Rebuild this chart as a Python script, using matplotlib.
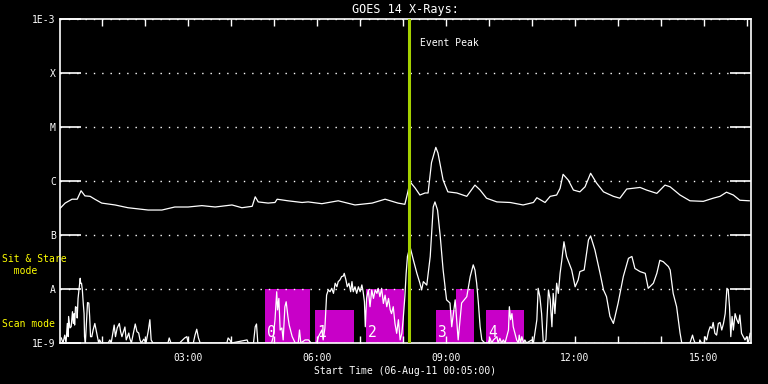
import matplotlib
matplotlib.use("Agg")
import matplotlib.pyplot as plt
import matplotlib.ticker as mticker

plt.rcParams["font.family"] = ["DejaVu Sans Mono", "DejaVu Sans"]

# ---------------- data (hours since 00:00 UT, flux in W/m^2) ----------------
long_hours = [0.03, 0.15, 0.31, 0.43, 0.52, 0.61, 0.73, 0.84, 1.00, 1.31, 1.61, 2.08, 2.40, 2.70,
              3.01, 3.33, 3.64, 4.03, 4.26, 4.50, 4.57, 4.64, 4.87, 5.03, 5.08, 5.33, 5.66, 5.80,
              6.12, 6.50, 6.89, 7.29, 7.59, 7.89, 8.05, 8.12, 8.17, 8.29, 8.40, 8.52, 8.59, 8.67,
              8.77, 8.82, 8.94, 9.05, 9.26, 9.49, 9.68, 9.80, 9.95, 10.19, 10.50, 10.80, 11.04,
              11.12, 11.31, 11.43, 11.58, 11.66, 11.73, 11.85, 11.97, 12.12, 12.24, 12.37, 12.51,
              12.67, 12.90, 13.05, 13.21, 13.52, 13.67, 13.91, 14.10, 14.22, 14.45, 14.68, 14.99,
              15.22, 15.38, 15.53, 15.69, 15.84, 16.06]
long_flux = [3.1e-7, 3.9e-7, 4.6e-7, 4.6e-7, 6.6e-7, 5.3e-7, 5.2e-7, 4.6e-7, 3.9e-7, 3.6e-7, 3.2e-7,
             2.9e-7, 2.9e-7, 3.3e-7, 3.3e-7, 3.5e-7, 3.3e-7, 3.6e-7, 3.2e-7, 3.4e-7, 5.1e-7, 4.1e-7,
             3.9e-7, 4.0e-7, 4.6e-7, 4.3e-7, 4.0e-7, 4.1e-7, 3.8e-7, 4.3e-7, 3.6e-7, 3.9e-7, 4.6e-7,
             3.9e-7, 3.7e-7, 6.3e-7, 9.7e-7, 7.4e-7, 5.5e-7, 6.0e-7, 6.0e-7, 2.2e-6, 4.2e-6, 3.3e-6,
             1.04e-6, 6.3e-7, 6.0e-7, 5.2e-7, 8.4e-7, 6.8e-7, 4.8e-7, 4.1e-7, 4.0e-7, 3.6e-7, 4.0e-7,
             4.9e-7, 4.0e-7, 5.2e-7, 5.5e-7, 7.3e-7, 1.33e-6, 1.04e-6, 6.8e-7, 6.3e-7, 7.8e-7,
             1.39e-6, 9.1e-7, 6.3e-7, 5.2e-7, 4.8e-7, 7.1e-7, 7.6e-7, 6.8e-7, 5.9e-7, 8.4e-7, 7.8e-7,
             5.5e-7, 4.3e-7, 4.2e-7, 4.8e-7, 5.2e-7, 6.2e-7, 5.5e-7, 4.4e-7, 4.3e-7]

short_hours = [0.06, 0.10, 0.14, 0.17, 0.20, 0.22, 0.23, 0.26, 0.29, 0.32, 0.34, 0.36, 0.37, 0.39,
               0.42, 0.43, 0.45, 0.47, 0.50, 0.51, 0.53, 0.55, 0.57, 0.59, 0.60, 0.62, 0.65, 0.67,
               0.70, 0.72, 0.74, 0.77, 0.80, 0.84, 0.86, 0.90, 0.93, 0.95, 0.99, 1.15, 1.19, 1.22,
               1.29, 1.32, 1.36, 1.41, 1.44, 1.47, 1.54, 1.57, 1.63, 1.65, 1.69, 1.78, 1.82, 1.86,
               1.89, 1.92, 1.98, 2.03, 2.08, 2.12, 2.15, 2.19, 2.54, 2.57, 2.61, 2.81, 2.93, 2.98,
               3.01, 3.13, 3.17, 3.21, 3.25, 3.29, 3.91, 3.94, 3.98, 4.02, 4.38, 4.41, 4.53, 4.57,
               4.60, 4.63, 4.95, 4.99, 5.03, 5.07, 5.09, 5.12, 5.15, 5.19, 5.22, 5.26, 5.29, 5.33,
               5.36, 5.40, 5.43, 5.50, 5.57, 5.60, 5.63, 5.73, 5.81, 5.87, 6.00, 6.04, 6.12, 6.15,
               6.19, 6.23, 6.27, 6.31, 6.35, 6.39, 6.43, 6.47, 6.50, 6.54, 6.58, 6.62, 6.64, 6.68,
               6.71, 6.75, 6.79, 6.82, 6.85, 6.89, 6.93, 6.97, 7.01, 7.05, 7.08, 7.11, 7.13, 7.16,
               7.20, 7.24, 7.28, 7.32, 7.36, 7.40, 7.43, 7.47, 7.51, 7.55, 7.59, 7.63, 7.67, 7.71,
               7.74, 7.78, 7.82, 7.86, 7.90, 7.94, 7.98, 8.01, 8.05, 8.08, 8.11, 8.17, 8.25, 8.33,
               8.40, 8.44, 8.48, 8.56, 8.64, 8.71, 8.75, 8.81, 8.87, 8.94, 9.02, 9.10, 9.14, 9.22,
               9.29, 9.37, 9.49, 9.57, 9.64, 9.68, 9.72, 9.76, 9.80, 9.84, 9.91, 9.99, 10.03, 10.07,
               10.11, 10.19, 10.22, 10.26, 10.30, 10.34, 10.38, 10.42, 10.46, 10.48, 10.51, 10.54,
               10.57, 10.61, 10.65, 10.69, 10.71, 10.74, 10.77, 10.81, 10.84, 10.88, 11.00, 11.04,
               11.12, 11.15, 11.19, 11.23, 11.27, 11.33, 11.39, 11.43, 11.47, 11.50, 11.54, 11.58,
               11.62, 11.66, 11.70, 11.75, 11.81, 11.93, 12.01, 12.08, 12.12, 12.22, 12.32, 12.37,
               12.47, 12.59, 12.67, 12.74, 12.82, 12.90, 13.01, 13.13, 13.25, 13.33, 13.40, 13.52,
               13.64, 13.71, 13.83, 13.91, 13.98, 14.06, 14.18, 14.22, 14.26, 14.29, 14.37, 14.41,
               14.45, 14.49, 14.68, 14.74, 14.77, 14.80, 14.90, 14.91, 14.95, 15.01, 15.03, 15.07,
               15.11, 15.15, 15.19, 15.22, 15.26, 15.30, 15.34, 15.38, 15.42, 15.46, 15.50, 15.54,
               15.57, 15.60, 15.63, 15.66, 15.69, 15.73, 15.77, 15.81, 15.84, 15.88, 15.92, 15.96,
               16.00, 16.04, 16.08]
short_flux = [1.24e-9, 1e-9, 1.4e-9, 1e-9, 2.3e-9, 1.31e-9, 3.1e-9, 1.9e-9, 2.0e-9, 3.8e-9, 2.3e-9,
              3.5e-9, 2.15e-9, 4.7e-9, 4.5e-9, 2.9e-9, 6.7e-9, 9.6e-9, 1.58e-8, 1.28e-8, 1.28e-8,
              9.6e-9, 5.5e-9, 3.5e-9, 1.31e-9, 1e-9, 2.7e-9, 5.6e-9, 5.5e-9, 3.1e-9, 1.31e-9,
              1.31e-9, 1.74e-9, 2.3e-9, 1.9e-9, 1.31e-9, 1e-9, 1.14e-9, 1e-9, 1e-9, 1.14e-9, 1e-9,
              2.15e-9, 1.31e-9, 1.9e-9, 2.3e-9, 1.62e-9, 1.31e-9, 1.98e-9, 1.14e-9, 1.53e-9,
              1.24e-9, 1e-9, 2.25e-9, 1.62e-9, 1.53e-9, 1.14e-9, 1e-9, 1.18e-9, 1e-9, 1.62e-9,
              2.7e-9, 1.14e-9, 1e-9, 1e-9, 1.24e-9, 1e-9, 1e-9, 1.24e-9, 1.31e-9, 1e-9, 1e-9,
              1.4e-9, 1.8e-9, 1.24e-9, 1e-9, 1e-9, 1.24e-9, 1.14e-9, 1e-9, 1.14e-9, 1e-9, 1e-9,
              2.0e-9, 2.25e-9, 1e-9, 1e-9, 1.31e-9, 2.7e-9, 8.9e-9, 4.1e-9, 6.7e-9, 1.74e-9, 1.9e-9,
              1.14e-9, 4.7e-9, 5.8e-9, 3.1e-9, 2.15e-9, 1.62e-9, 1.31e-9, 1e-9, 1e-9, 1.74e-9, 1e-9,
              1.14e-9, 1.14e-9, 1e-9, 1e-9, 1.31e-9, 1.74e-9, 1.14e-9, 1.87e-9, 7.7e-9, 9.6e-9,
              8.9e-9, 1.03e-8, 8.3e-9, 1.28e-8, 1.1e-8, 1.37e-8, 1.47e-8, 1.7e-8, 1.74e-8, 1.95e-8,
              1.47e-8, 1.1e-8, 1.28e-8, 8.9e-9, 1.37e-8, 8.9e-9, 1.1e-8, 8.3e-9, 1.1e-8, 8.9e-9,
              1.19e-8, 8.9e-9, 5.8e-9, 2.0e-9, 6.7e-9, 9.6e-9, 4.7e-9, 9.6e-9, 6.7e-9, 9.6e-9,
              8.3e-9, 1.03e-8, 7.2e-9, 1.03e-8, 5.4e-9, 7.7e-9, 4.7e-9, 6.7e-9, 4.1e-9, 3.5e-9,
              4.7e-9, 2.3e-9, 1.51e-9, 2.7e-9, 1.14e-9, 1.51e-9, 2.7e-9, 7.2e-9, 1.95e-8, 4.0e-8,
              6.1e-8, 3.4e-8, 1.95e-8, 1.28e-8, 9.6e-9, 1.37e-8, 1.18e-8, 4.0e-8, 3.3e-7, 4.1e-7,
              2.9e-7, 1.0e-7, 2.25e-8, 6.3e-9, 5.5e-9, 2.0e-9, 6.3e-9, 1.14e-9, 5.5e-9, 7.2e-9,
              1.7e-8, 2.8e-8, 2.25e-8, 1.28e-8, 5.5e-9, 2.0e-9, 1.14e-9, 1e-9, 1e-9, 1.22e-9, 1e-9,
              1.14e-9, 1.31e-9, 1e-9, 1.22e-9, 1e-9, 1.14e-9, 1e-9, 1.31e-9, 1.74e-9, 4.7e-9,
              2.7e-9, 3.5e-9, 2.0e-9, 1.51e-9, 1.14e-9, 1e-9, 1.4e-9, 1e-9, 1.31e-9, 1e-9, 1.14e-9,
              1e-9, 1.14e-9, 1e-9, 2.7e-9, 1.03e-8, 7.2e-9, 3.5e-9, 1e-9, 1.14e-9, 9.6e-9, 6.3e-9,
              2.0e-9, 8.3e-9, 3.5e-9, 1.28e-8, 8.3e-9, 1.95e-8, 3.4e-8, 7.5e-8, 4.0e-8, 2.25e-8,
              1.1e-8, 1.47e-8, 2.1e-8, 2.25e-8, 8.1e-8, 9.6e-8, 5.3e-8, 1.95e-8, 9.6e-9, 7.2e-9,
              3.1e-9, 2.3e-9, 5.5e-9, 1.7e-8, 3.7e-8, 4.0e-8, 2.4e-8, 2.1e-8, 1.95e-8, 1.03e-8,
              1.28e-8, 1.95e-8, 3.4e-8, 3.2e-8, 2.6e-8, 2.25e-8, 1.28e-8, 8.3e-9, 4.7e-9, 2.7e-9,
              1.53e-9, 1e-9, 1e-9, 1.4e-9, 1.14e-9, 1e-9, 1e-9, 1.14e-9, 1e-9, 1e-9, 1.31e-9,
              1.14e-9, 1.62e-9, 2.0e-9, 1.87e-9, 2.4e-9, 1.51e-9, 1.4e-9, 2.3e-9, 2.4e-9, 1.74e-9,
              2.3e-9, 3.5e-9, 1.03e-8, 9.6e-9, 4.7e-9, 1.31e-9, 3.1e-9, 1.74e-9, 3.5e-9, 2.7e-9,
              2.3e-9, 3.3e-9, 1.51e-9, 1.31e-9, 1.14e-9, 1.31e-9, 1e-9, 1.51e-9]

# observing-mode blocks (start/end hours, level)
mode_start = [4.80, 5.96, 7.15, 8.77, 9.24, 9.94]
mode_end = [5.84, 6.87, 8.03, 9.66, 9.66, 10.82]
mode_level = [1e-8, 4.1e-9, 1e-8, 4.1e-9, 1e-8, 4.1e-9]
block_labels = ["0", "1", "2", "3", "4"]
block_label_hours = [4.84, 6.00, 7.19, 8.81, 9.98]

event_peak_hour = 8.135
ytick_values = [1e-9, 1e-8, 1e-7, 1e-6, 1e-5, 1e-4, 1e-3]
ytick_labels = ["1E-9", "A", "B", "C", "M", "X", "1E-3"]
xtick_values = [3, 6, 9, 12, 15]
xtick_labels = ["03:00", "06:00", "09:00", "12:00", "15:00"]

# ---------------- figure ----------------
W, H = 768, 384
fig = plt.figure(figsize=(W / 100, H / 100), dpi=100, facecolor="black")
ax = fig.add_axes([60 / W, 41 / H, 691 / W, 324 / H])
ax.set_facecolor("black")
ax.set_yscale("log")
ax.set_xlim(0.03, 16.10)
ax.set_ylim(1e-9, 1e-3)

for s, e, lvl in zip(mode_start, mode_end, mode_level):
    ax.bar(s, lvl - 1e-9, width=e - s, bottom=1e-9, align="edge",
           color="#c800c8", linewidth=0, zorder=1)

for lab, hx in zip(block_labels, block_label_hours):
    ax.text(hx, 1.28e-9, lab, color="white", fontsize=10.5, ha="left", va="baseline", zorder=2)

ax.plot(long_hours, long_flux, color="white", lw=0.9, zorder=3)
ax.plot(short_hours, short_flux, color="white", lw=0.9, zorder=3)

ax.axvline(event_peak_hour, color="#a4d000", lw=2.2, zorder=4)
ax.text(8.40, 3.6e-4, "Event Peak", color="white", fontsize=7, ha="left", va="center")

ax.set_yticks(ytick_values)
ax.set_yticklabels(ytick_labels)
ax.yaxis.set_minor_locator(mticker.NullLocator())
ax.yaxis.grid(True, color="white", linestyle=(0, (1, 5)), lw=1.0)
ax.tick_params(axis="y", which="major", direction="in", length=15, width=1.2,
               colors="white", left=True, right=True, labelsize=7, pad=3)

ax.set_xticks(xtick_values)
ax.set_xticklabels(xtick_labels)
ax.xaxis.set_minor_locator(mticker.MultipleLocator(1))
ax.tick_params(axis="x", which="both", direction="in", length=5, width=1,
               colors="white", top=True, bottom=True, labelsize=7, pad=7)

for sp in ax.spines.values():
    sp.set_color("white")
    sp.set_linewidth(1.2)

fig.text(405 / W, 1 - 9 / H, "GOES 14 X-Rays:", color="white", fontsize=8.5, ha="center", va="center")
fig.text(405 / W, 1 - 371 / H, "Start Time (06-Aug-11 00:05:00)", color="white",
         fontsize=7, ha="center", va="center")
fig.text(2 / W, 1 - 265 / H, "Sit & Stare\n  mode", color="yellow", fontsize=7,
         ha="left", va="center", linespacing=1.25)
fig.text(2 / W, 1 - 324 / H, "Scan mode", color="yellow", fontsize=7, ha="left", va="center")

fig.savefig("out.png", dpi=100, facecolor="black")
